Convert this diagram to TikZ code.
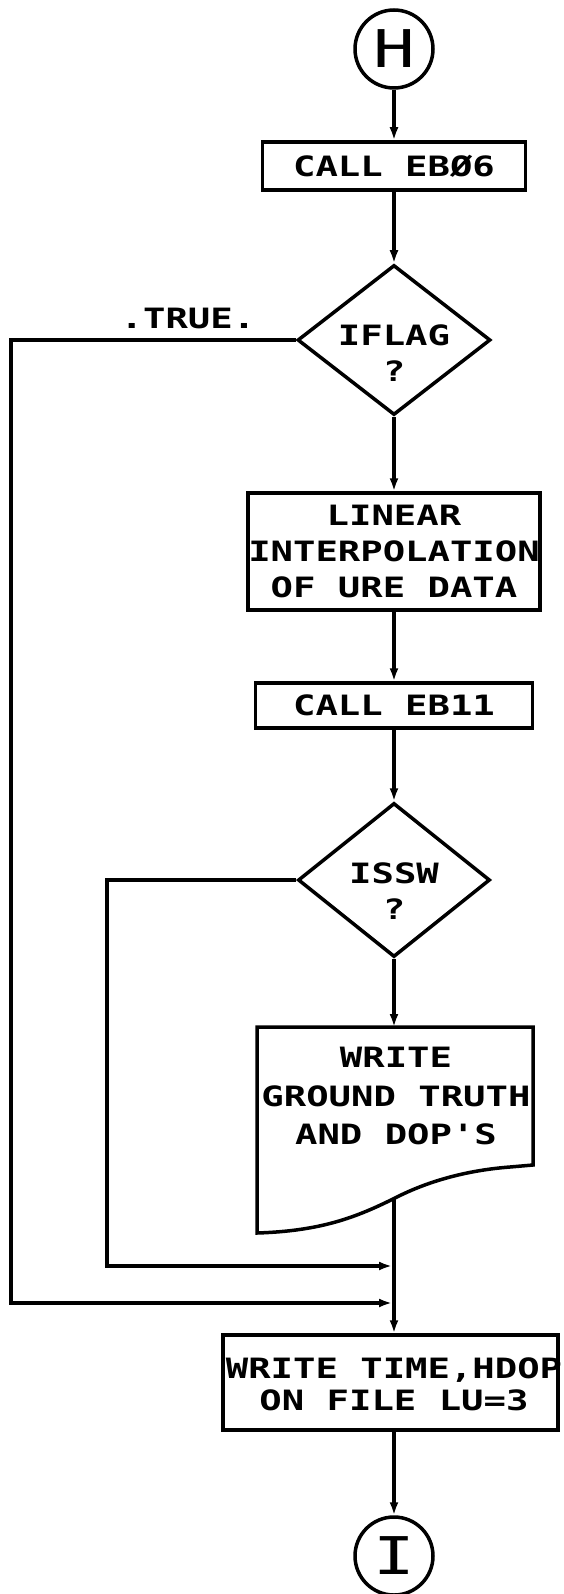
\documentclass[tikz,border=0pt]{standalone}
\usepackage{fontspec}
\newfontfamily\plotfont[FakeStretch=1.33]{DejaVu Sans Mono}
\usetikzlibrary{shapes.geometric,arrows.meta}
\begin{document}
\begin{tikzpicture}[x=1pt,y=-1pt,line width=3.5pt,
  txt/.style={font=\plotfont\bfseries\fontsize{28}{36}\selectfont,inner sep=0pt,align=center},
  boxnode/.style={draw,rectangle,inner sep=0pt,align=center,font=\plotfont\bfseries\fontsize{28}{36}\selectfont},
  decision/.style={draw,diamond,inner sep=0pt},
  connector/.style={draw,circle,inner sep=0pt,minimum size=#1,font=\plotfont\fontsize{52}{52}\selectfont},
  flow/.style={-{Latex[length=13pt,width=9pt]}}]
\useasboundingbox (0,0) rectangle (563,1594);

% nodes
\node[connector=78pt] (H) at (394,49) {H};
\node[boxnode,minimum width=263pt,minimum height=48pt] (b1) at (394,166) {CALL EBØ6};
\node[decision,minimum width=193pt,minimum height=150pt] (d1) at (394,340) {};
\node[txt] (d1t) at (394,353) {IFLAG\\?};
\node[txt] (truelbl) at (188,318) {.TRUE.};
\node[boxnode,minimum width=292pt,minimum height=117pt] (b2) at (394,551.5) {LINEAR\\INTERPOLATION\\OF URE DATA};
\node[boxnode,minimum width=277pt,minimum height=45pt] (b3) at (394,705.5) {CALL EB11};
\node[decision,minimum width=192pt,minimum height=154pt] (d2) at (394,880) {};
\node[txt] (d2t) at (394,891) {ISSW\\?};
% document shape
\draw (257,1027) -- (533,1027) -- (533,1165) -- (510,1167)
  .. controls (470,1170) and (430,1180) .. (395,1198)
  .. controls (355,1218) and (320,1231) .. (257,1233) -- cycle;
\coordinate (doctop) at (394,1027);
\coordinate (docbot) at (394,1199);
\node[txt,font=\plotfont\bfseries\fontsize{28}{38.5}\selectfont] (doct) at (396,1096) {WRITE\\GROUND TRUTH\\AND DOP'S};
\node[draw,rectangle,minimum width=335pt,minimum height=95pt] (b4) at (390.5,1382.5) {};
\node[txt,font=\plotfont\bfseries\fontsize{28}{32}\selectfont] (b4t) at (394,1384) {WRITE TIME,HDOP\\ON FILE LU=3};
\node[connector=78pt] (I) at (394,1556) {I};

% junction coordinates
\coordinate (j1) at (392,1266);
\coordinate (j2) at (392,1303);
\coordinate (c1) at (107,1266);
\coordinate (c2) at (11,1303);

% connectors
\draw[flow] (H) -- (b1);
\draw[flow] (b1) -- (d1);
\draw[flow] (d1) -- (b2);
\draw[flow] (b2) -- (b3);
\draw[flow] (b3) -- (d2);
\draw[flow] (d2) -- (doctop);
\draw[flow] (docbot) -- (docbot |- b4.north);
\draw[flow] (I.north |- b4.south) -- (I);
\draw[flow] (d2.west) -| (c1) -- (j1);
\draw[flow] (d1.west) -| (c2) -- (j2);
\end{tikzpicture}
\end{document}
